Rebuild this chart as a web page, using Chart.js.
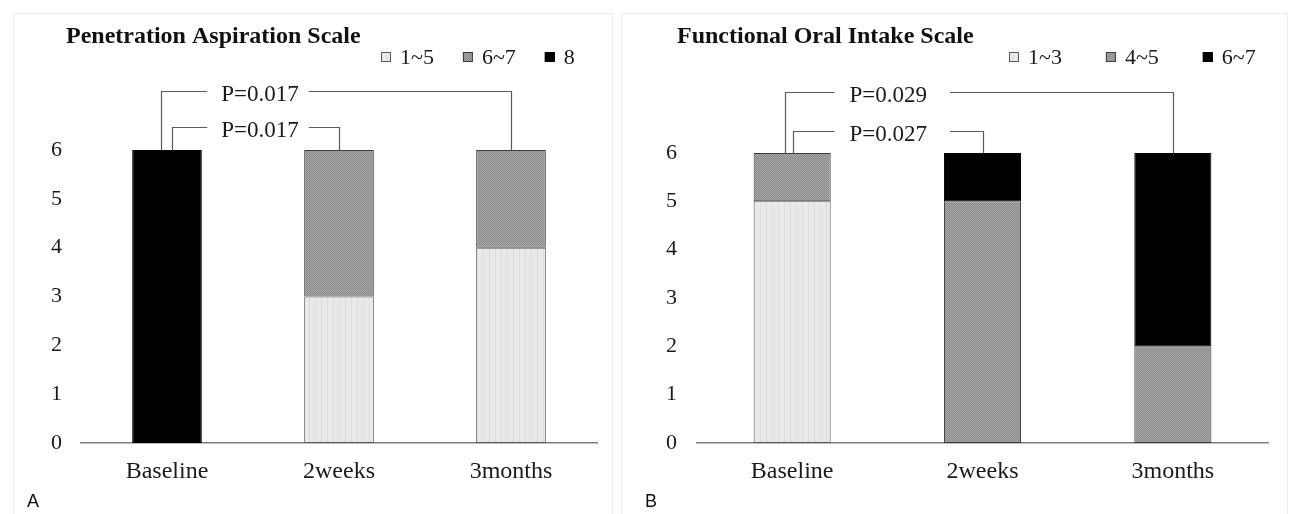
<!DOCTYPE html>
<html>
<head>
<meta charset="utf-8">
<script src="https://cdn.jsdelivr.net/npm/chart.js@4.4.1/dist/chart.umd.min.js"></script>
<style>
  html, body { margin: 0; padding: 0; background: #fff; width: 1297px; height: 514px; overflow: hidden; }
  .frame { position: absolute; box-sizing: border-box; border: 1px solid #ebebeb; }
  canvas { position: absolute; }
  .tag { position: absolute; font-family: "Liberation Sans", Arial, sans-serif; font-size: 18px; line-height: 18px; color: #111; }
</style>
</head>
<body>
<div class="frame" style="left:13px;top:13px;width:600px;height:520px;"></div>
<div class="frame" style="left:621px;top:13px;width:667px;height:520px;"></div>
<canvas id="cA" width="597" height="500" style="left:15px;top:15px;"></canvas>
<canvas id="cB" width="665" height="500" style="left:622px;top:15px;"></canvas>
<div class="tag" style="left:27px;top:492px;">A</div>
<div class="tag" style="left:645px;top:492px;">B</div>
<script>
// ---------------- data ----------------
const categories = ['Baseline', '2weeks', '3months'];
const yTicks = [0, 1, 2, 3, 4, 5, 6];

const pasTitle = 'Penetration Aspiration Scale';
const pasSeriesLabels = ['1~5', '6~7', '8'];
const pas_1_5 = [0, 3, 4];
const pas_6_7 = [0, 3, 2];
const pas_8   = [6, 0, 0];

const foisTitle = 'Functional Oral Intake Scale';
const foisSeriesLabels = ['1~3', '4~5', '6~7'];
const fois_1_3 = [5, 0, 0];
const fois_4_5 = [1, 5, 2];
const fois_6_7 = [0, 1, 4];

// comparisons: [from category, to category]; outer first, inner second
const comparisons = [[0, 2], [0, 1]];
const pasPValues  = ['P=0.017', 'P=0.017'];
const foisPValues = ['P=0.029', 'P=0.027'];

// ---------------- styles ----------------
Chart.defaults.font.family = '"Liberation Serif", "Times New Roman", serif';
Chart.defaults.color = '#1a1a1a';

function makePatterns(canvas) {
  const ctx = canvas.getContext('2d');
  const t1 = document.createElement('canvas');
  t1.width = 6; t1.height = 6;
  const c1 = t1.getContext('2d');
  c1.fillStyle = '#e9e9e9'; c1.fillRect(0, 0, 6, 6);
  c1.fillStyle = '#dcdcdc'; c1.fillRect(0, 0, 1, 6);
  const t2 = document.createElement('canvas');
  t2.width = 2; t2.height = 2;
  const c2 = t2.getContext('2d');
  c2.fillStyle = '#a6a6a6'; c2.fillRect(0, 0, 2, 2);
  c2.fillStyle = '#8b8b8b'; c2.fillRect(0, 0, 1, 1); c2.fillRect(1, 1, 1, 1);
  return {
    light: ctx.createPattern(t1, 'repeat'),
    gray: ctx.createPattern(t2, 'repeat'),
    black: '#000000'
  };
}

// moves the (start-aligned) title block horizontally after layout
const titleShiftPlugin = {
  id: 'titleShift',
  afterLayout(chart, args, o) {
    const tb = chart.titleBlock;
    if (tb) { tb.left += o.dx; tb.right += o.dx; }
  }
};

const bracketPlugin = {
  id: 'pBrackets',
  afterDatasetsDraw(chart, args, o) {
    const { ctx, scales: { x, y } } = chart;
    const top = Math.round(y.getPixelForValue(o.topValue)) + 0.5;
    ctx.save();
    ctx.strokeStyle = o.color;
    ctx.lineWidth = o.lineWidth;
    ctx.font = o.font;
    ctx.fillStyle = o.textColor;
    ctx.textAlign = 'center';
    ctx.textBaseline = 'middle';
    o.pairs.forEach((pair, i) => {
      const x1 = Math.round(x.getPixelForValue(pair[0]) + o.leftOffsets[i]) + 0.5;
      const x2 = Math.round(x.getPixelForValue(pair[1])) + 0.5;
      const ly = Math.round(top - o.rise[i]) + 0.5;
      const tx = (x.getPixelForValue(0) + x.getPixelForValue(1)) / 2 + o.textShift;
      const tw = ctx.measureText(o.labels[i]).width;
      const g1 = tx - tw / 2 - o.gapLeft;
      const g2 = tx + tw / 2 + o.gapRight;
      ctx.beginPath();
      ctx.moveTo(x1, top); ctx.lineTo(x1, ly); ctx.lineTo(g1, ly);
      ctx.moveTo(g2, ly); ctx.lineTo(x2, ly); ctx.lineTo(x2, top);
      ctx.stroke();
      ctx.fillText(o.labels[i], tx, ly + o.textDy);
    });
    ctx.restore();
  }
};

const boxLegendPlugin = {
  id: 'boxLegend',
  afterDraw(chart, args, o) {
    const ctx = chart.ctx;
    let x = o.x;
    ctx.save();
    ctx.font = o.font;
    ctx.textBaseline = 'middle';
    ctx.textAlign = 'left';
    chart.data.datasets.forEach(ds => {
      const by = Math.round(o.y - o.box / 2);
      ctx.fillStyle = ds.backgroundColor;
      ctx.fillRect(x, by, o.box, o.box);
      ctx.strokeStyle = ds.borderColor;
      ctx.lineWidth = 1;
      ctx.strokeRect(x + 0.5, by + 0.5, o.box - 1, o.box - 1);
      ctx.fillStyle = o.color;
      ctx.fillText(ds.label, x + o.box + o.textGap, o.y + o.textDy);
      x += o.box + o.textGap + ctx.measureText(ds.label).width + o.itemGap;
    });
    ctx.restore();
  }
};

function buildChart(canvasId, title, seriesLabels, series, pValues, s) {
  const canvas = document.getElementById(canvasId);
  const pat = makePatterns(canvas);
  const fills = [pat.light, pat.gray, pat.black];
  const borders = ['#5a5a5a', '#3c3c3c', '#000000'];
  const datasets = series.map((vals, i) => ({
    label: seriesLabels[i],
    data: vals,
    backgroundColor: fills[i],
    borderColor: borders[i],
    borderWidth: c => (c.raw ? 1 : 0),
    borderSkipped: false,
    barPercentage: s.barPct,
    categoryPercentage: 1.0
  }));
  return new Chart(canvas, {
    type: 'bar',
    data: { labels: categories, datasets },
    plugins: [titleShiftPlugin, bracketPlugin, boxLegendPlugin],
    options: {
      responsive: false,
      animation: false,
      devicePixelRatio: 1,
      layout: { padding: { left: s.padLeft, right: s.padRight, top: 0, bottom: s.padBottom } },
      scales: {
        x: {
          stacked: true,
          grid: { display: false, drawTicks: false },
          border: { display: true, color: '#7c7c7c', width: 1.6 },
          ticks: { font: { size: 24 }, color: '#1a1a1a', padding: s.xPad, maxRotation: 0 },
          afterFit: sc => { sc.height = 50; }
        },
        y: {
          stacked: true,
          min: 0, max: 6,
          grid: { display: false, drawTicks: false },
          border: { display: false },
          ticks: { font: { size: 22 }, color: '#1a1a1a', padding: s.yPad, autoSkip: false },
          afterBuildTicks: sc => { sc.ticks = yTicks.map(v => ({ value: v })); },
          afterFit: sc => { sc.width = s.yWidth; }
        }
      },
      plugins: {
        legend: { display: false },
        tooltip: { enabled: false },
        title: {
          display: true,
          text: title,
          align: 'start',
          color: '#111',
          font: { size: 24, weight: 'bold' },
          padding: { top: s.titleTop, bottom: s.titleBottom }
        },
        titleShift: { dx: s.titleDx },
        boxLegend: {
          x: s.legendX, y: 42, box: 10, textGap: 9, itemGap: s.itemGap,
          font: '22px "Liberation Serif", "Times New Roman", serif', color: '#1a1a1a', textDy: 1
        },
        pBrackets: {
          pairs: comparisons, labels: pValues, topValue: 6,
          rise: s.rise, leftOffsets: s.leftOffsets,
          textShift: s.textShift, gapLeft: s.gapLeft, gapRight: s.gapRight, textDy: 3,
          color: '#5a5a5a', lineWidth: 1.2, textColor: '#1a1a1a',
          font: '23px "Liberation Serif", "Times New Roman", serif'
        }
      }
    }
  });
}

buildChart('cA', pasTitle, pasSeriesLabels, [pas_1_5, pas_6_7, pas_8], pasPValues, {
  barPct: 0.405, padLeft: 20, padRight: 15, padBottom: 22, yWidth: 46, yPad: 19, xPad: 14,
  titleTop: 7.6, titleBottom: 98.6, titleDx: 31, legendX: 366, itemGap: 29,
  rise: [60, 24], leftOffsets: [-6, 5], textShift: 7, gapLeft: 14, gapRight: 10
});

buildChart('cB', foisTitle, foisSeriesLabels, [fois_1_3, fois_4_5, fois_6_7], foisPValues, {
  barPct: 0.405, padLeft: 20, padRight: 19, padBottom: 22, yWidth: 55, yPad: 20, xPad: 14,
  titleTop: 7.6, titleBottom: 101.6, titleDx: 35, legendX: 387, itemGap: 44,
  rise: [62, 23], leftOffsets: [-7, 1], textShift: 1, gapLeft: 15, gapRight: 23
});
</script>
</body>
</html>
